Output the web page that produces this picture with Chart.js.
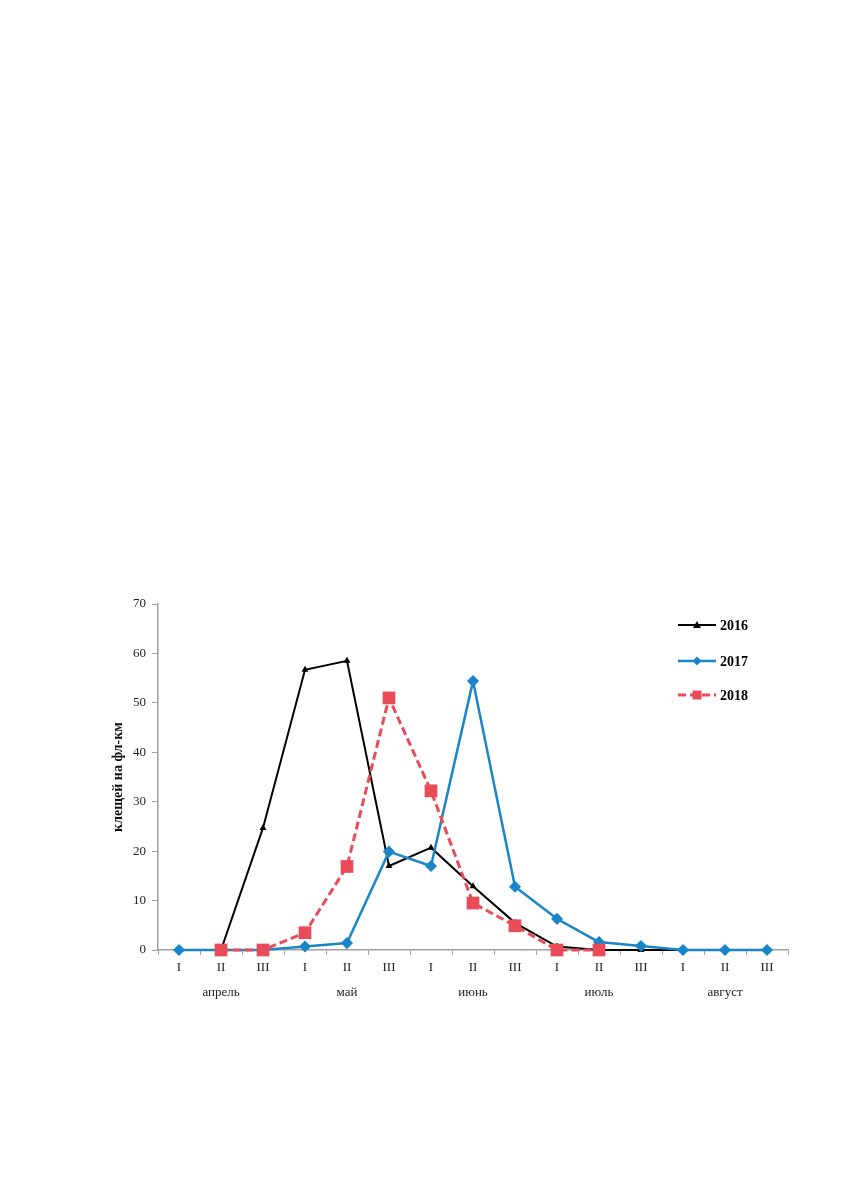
<!DOCTYPE html>
<html>
<head>
<meta charset="utf-8">
<script src="https://cdn.jsdelivr.net/npm/chart.js@4/dist/chart.umd.min.js"></script>
<style>
  body { margin: 0; background: #fff; width: 856px; height: 1181px; position: relative; }
  #wrap { position: absolute; left: 100px; top: 590px; width: 700px; height: 430px; }
</style>
</head>
<body>
<div id="wrap"><canvas id="mycanvas" width="700" height="430"></canvas></div>
<script>
// декады и месяцы
var decades = ['I', 'II', 'III'];
var months = ['апрель', 'май', 'июнь', 'июль', 'август'];
var years = ['2016', '2017', '2018'];

// клещей на фл-км по декадам (апрель I ... август III)
var y2016 = [0, 0, 24.7, 56.7, 58.5, 17.0, 20.7, 12.9, 5.5, 0.7, 0, 0, 0, 0, 0];
var y2017 = [0, 0, 0, 0.7, 1.4, 19.9, 17.0, 54.4, 12.8, 6.3, 1.6, 0.8, 0, 0, 0];
var y2018 = [null, 0, 0, 3.5, 16.9, 51.0, 32.2, 9.5, 4.9, 0, 0, null, null, null, null];

var yTicks = { min: 0, max: 70, step: 10 };

var labels = [];
for (var m in months) {
	for (var d in decades) {
		if (d == 1) labels.push([decades[d], months[m]]);
		else labels.push([decades[d], '']);
	}
}

var serif = "'Liberation Serif', 'Times New Roman', serif";

// легенда в правом верхнем углу
var cornerLegend = {
	id: 'cornerLegend',
	afterDraw: function(chart) {
		var ctx = chart.ctx;
		var area = chart.chartArea;
		var x0 = area.right - 110;
		var ys = [21, 57, 91];
		var sets = [2, 1, 0];
		ctx.save();
		for (var i = 0; i < 3; i++) {
			var ds = chart.data.datasets[sets[i]];
			var y = area.top + ys[i];
			ctx.strokeStyle = ds.borderColor;
			ctx.lineWidth = ds.borderWidth;
			ctx.setLineDash(ds.borderDash || []);
			ctx.beginPath();
			ctx.moveTo(x0, y);
			ctx.lineTo(x0 + 38, y);
			ctx.stroke();
			ctx.setLineDash([]);
			ctx.fillStyle = ds.pointBackgroundColor;
			var cx = x0 + 19;
			ctx.beginPath();
			if (ds.pointStyle == 'triangle') {
				ctx.moveTo(cx, y - 4);
				ctx.lineTo(cx + 4, y + 3);
				ctx.lineTo(cx - 4, y + 3);
			} else if (ds.pointStyle == 'rectRot') {
				ctx.moveTo(cx, y - 4.5);
				ctx.lineTo(cx + 4.5, y);
				ctx.lineTo(cx, y + 4.5);
				ctx.lineTo(cx - 4.5, y);
			} else {
				ctx.rect(cx - 4.5, y - 4.5, 9, 9);
			}
			ctx.closePath();
			ctx.fill();
			ctx.fillStyle = '#000';
			ctx.font = 'bold 14px ' + serif;
			ctx.textBaseline = 'middle';
			ctx.textAlign = 'left';
			ctx.fillText(years[i], x0 + 42, y + 1);
		}
		ctx.restore();
	}
};

var chartdata = {
	labels: labels,
	datasets: [
		{
			label: years[2],
			data: y2018,
			borderColor: 'rgb(232, 76, 88)',
			backgroundColor: 'rgb(232, 76, 88)',
			pointBackgroundColor: 'rgb(232, 76, 88)',
			pointBorderColor: 'rgb(232, 76, 88)',
			borderWidth: 3,
			borderDash: [8, 4],
			pointStyle: 'rect',
			pointRadius: 9,
			pointBorderWidth: 0,
			fill: false,
			clip: false,
			order: 0
		},
		{
			label: years[1],
			data: y2017,
			borderColor: 'rgb(26, 134, 200)',
			backgroundColor: 'rgb(26, 134, 200)',
			pointBackgroundColor: 'rgb(26, 134, 200)',
			pointBorderColor: 'rgb(26, 134, 200)',
			borderWidth: 2.5,
			pointStyle: 'rectRot',
			pointRadius: 5,
			pointBorderWidth: 1.5,
			borderJoinStyle: 'round',
			fill: false,
			clip: false,
			order: 1
		},
		{
			label: years[0],
			data: y2016,
			borderColor: '#000',
			backgroundColor: '#000',
			pointBackgroundColor: '#000',
			pointBorderColor: '#000',
			borderWidth: 2,
			pointStyle: 'triangle',
			pointRadius: 4,
			pointBorderWidth: 0,
			fill: false,
			clip: false,
			order: 2
		}
	]
};

var ctx = document.getElementById('mycanvas');

var lineGraph = new Chart(ctx, {
	type: 'line',
	data: chartdata,
	plugins: [cornerLegend],
	options: {
		responsive: false,
		animation: false,
		devicePixelRatio: 1,
		layout: { padding: { top: 14, right: 12, left: 0, bottom: 0 } },
		plugins: {
			legend: { display: false },
			tooltip: { enabled: false }
		},
		scales: {
			x: {
				offset: true,
				afterFit: function(scale) { scale.height = 70; },
				border: { color: '#a0a0a0', width: 1.5 },
				grid: { drawOnChartArea: false, offset: true, tickLength: 5, color: '#a0a0a0' },
				ticks: {
					color: '#222',
					padding: 0,
					maxRotation: 0,
					autoSkip: false,
					font: { family: serif, size: 13, lineHeight: 1.92 }
				}
			},
			y: {
				min: yTicks.min,
				max: yTicks.max,
				afterFit: function(scale) { scale.width = 58; },
				border: { color: '#a0a0a0', width: 1.5 },
				grid: { drawOnChartArea: false, tickLength: 6, color: '#a0a0a0' },
				ticks: {
					stepSize: yTicks.step,
					color: '#222',
					padding: 6,
					font: { family: serif, size: 13 }
				},
				title: {
					display: true,
					text: 'клещей на фл-км',
					color: '#111',
					padding: { top: 10, bottom: 0 },
					font: { family: serif, size: 14, weight: 'bold' }
				}
			}
		}
	}
});
</script>
</body>
</html>
